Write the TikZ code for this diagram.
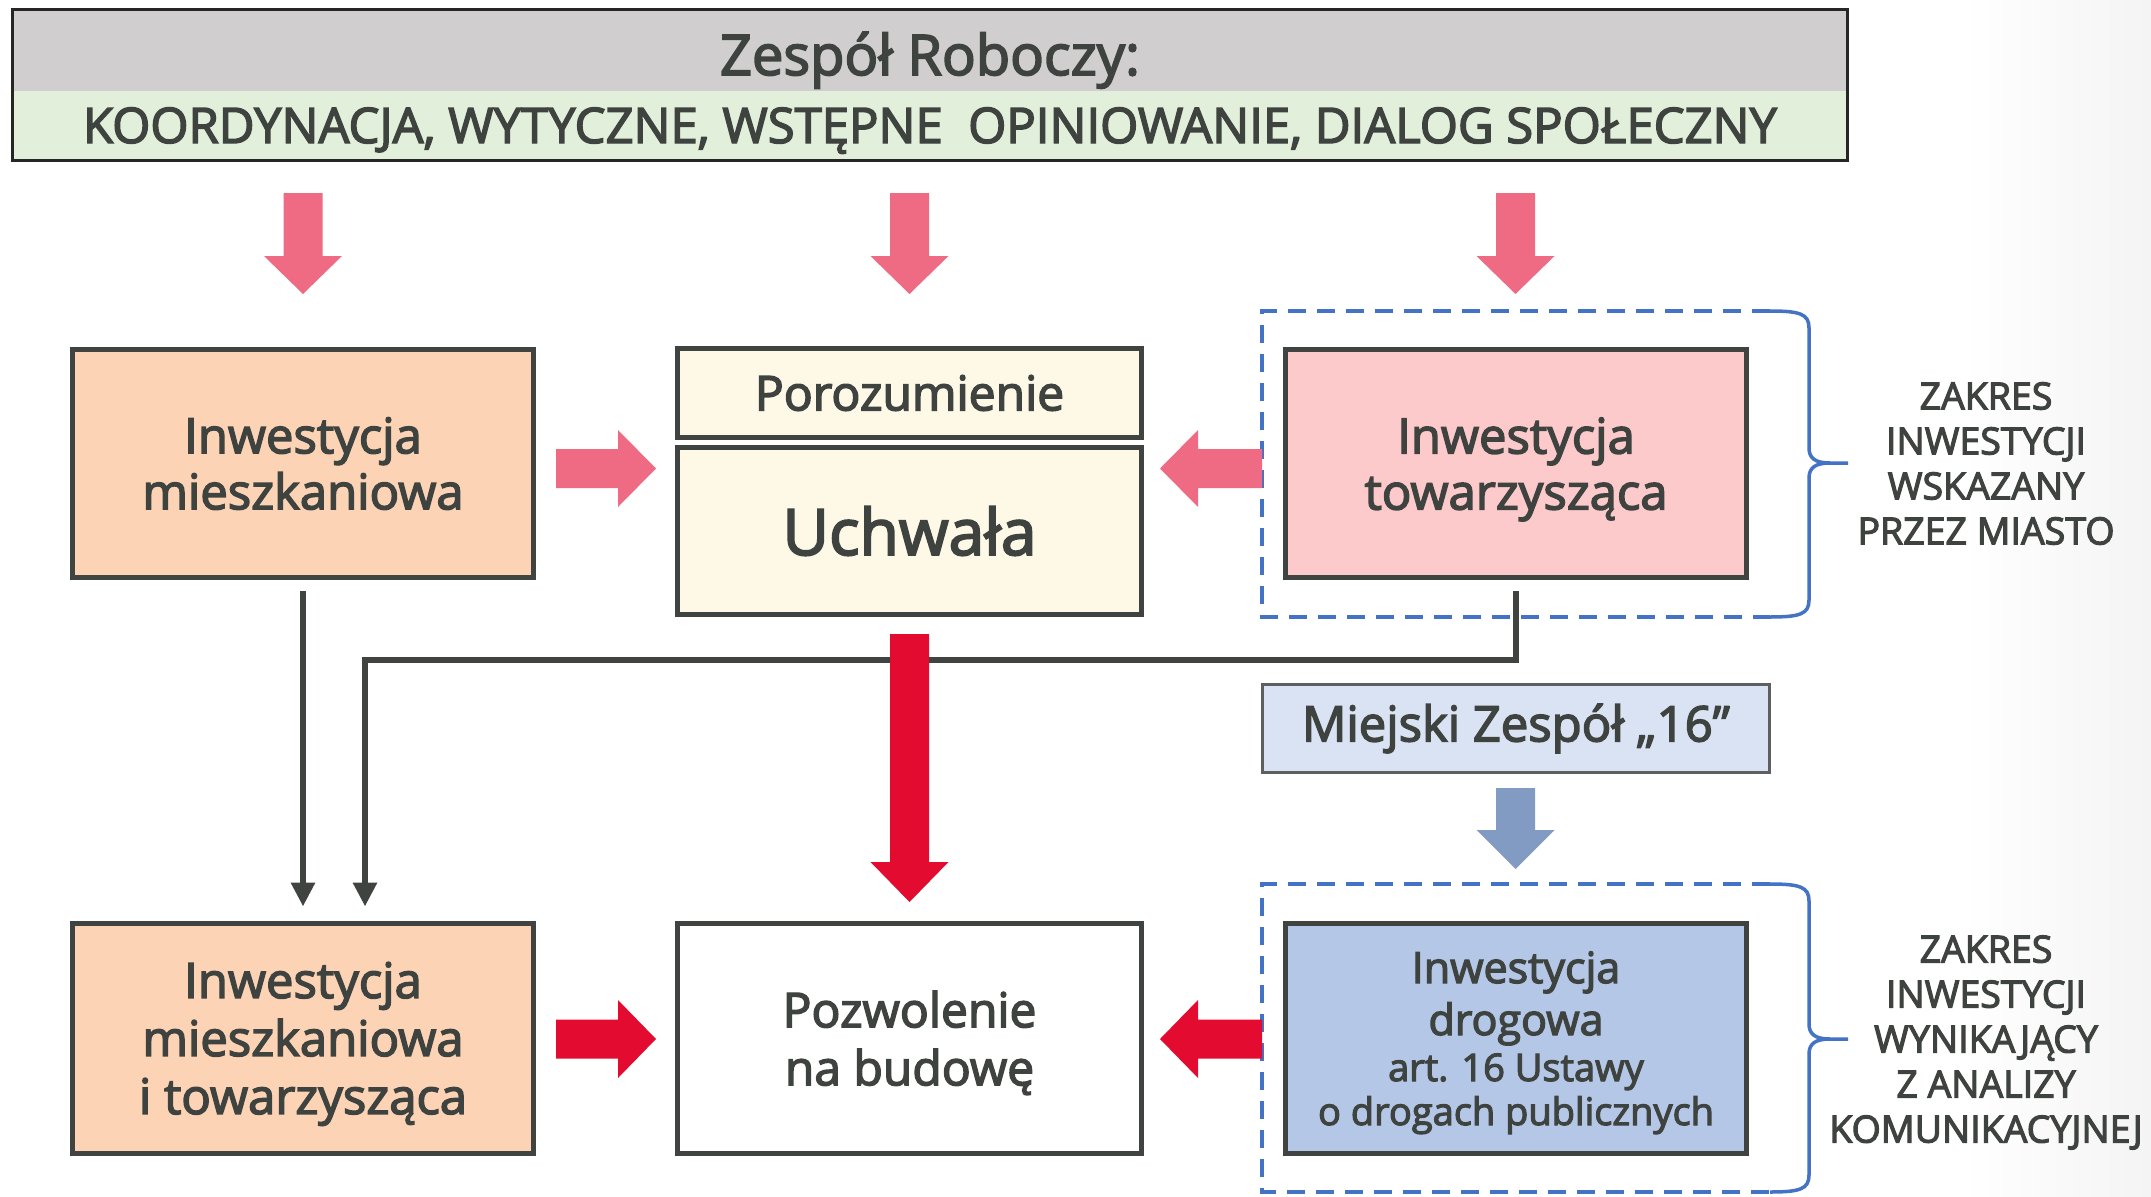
\documentclass[tikz,border=0pt]{standalone}
\usepackage{fontspec}
\setmainfont{Open Sans}[FakeBold=3]
\usetikzlibrary{arrows.meta}
\definecolor{txt}{HTML}{3F4340}
\definecolor{boxc}{HTML}{404441}
\definecolor{grayband}{HTML}{D0CECE}
\definecolor{greenband}{HTML}{E2EFDA}
\definecolor{pinka}{HTML}{EE6B83}
\definecolor{reda}{HTML}{E30B30}
\definecolor{bluea}{HTML}{829BC3}
\definecolor{peach}{HTML}{FDD3B6}
\definecolor{cream}{HTML}{FEF8E7}
\definecolor{rosy}{HTML}{FDCACB}
\definecolor{bluefill}{HTML}{B4C7E7}
\definecolor{lightblue}{HTML}{DAE3F3}
\definecolor{dashblue}{HTML}{4472C4}
\definecolor{edgegray}{HTML}{F4F4F4}
\newcommand{\myfs}[2]{\fontsize{#1}{#2}\selectfont}
\begin{document}
\begin{tikzpicture}[x=1pt,y=-1pt,
  box/.style={draw=boxc, line width=5pt, inner sep=0pt, outer sep=0pt, text=txt, align=center},
  conn/.style={draw=boxc, line width=6pt, -{Triangle[width=23pt,length=24pt]}},
  dashline/.style={draw=dashblue, line width=3.5pt, dash pattern=on 18pt off 11pt},
  braceline/.style={draw=dashblue, line width=3.5pt},
  sidetext/.style={text=txt, align=center, font=\myfs{37.5}{45}}]
\useasboundingbox (0,0) rectangle (2151,1196);
\fill[white] (0,0) rectangle (2151,1196);
\shade[left color=white, right color=edgegray] (1960,0) rectangle (2151,1196);

% top box
\fill[grayband] (11,8) rectangle (1849,91);
\fill[greenband] (11,91) rectangle (1849,162);
\node[draw=black!85, line width=3pt, minimum width=1835pt, minimum height=151pt, inner sep=0pt] (top) at (930,85) {};
\node[text=txt, font=\myfs{56}{60}, anchor=base] (title) at (930,75) {Zespół Roboczy:};
\node[text=txt, font=\myfs{49}{55}, anchor=base] (sub) at (930,143) {KOORDYNACJA, WYTYCZNE, WSTĘPNE\ \ OPINIOWANIE, DIALOG SPOŁECZNY};

% pink arrows down
\foreach \c in {303,909.5,1515.5}
  \fill[pinka] (\c-19.5,193) -- (\c+19.5,193) -- (\c+19.5,256) -- (\c+39,256) -- (\c,294) -- (\c-39,256) -- (\c-19.5,256) -- cycle;

% row 1 boxes
\node[box, fill=peach, minimum width=461pt, minimum height=228pt, font=\myfs{49}{56}] (m1) at (303,463.5) {Inwestycja\\mieszkaniowa};
\node[box, fill=cream, minimum width=464pt, minimum height=89pt, font=\myfs{48}{56}] (por) at (909.5,393) {Porozumienie};
\node[box, fill=cream, minimum width=464pt, minimum height=167pt, font=\myfs{64}{70}] (uch) at (909.5,531) {Uchwała};
\node[box, fill=rosy, minimum width=461pt, minimum height=228pt, font=\myfs{49}{56}] (t1) at (1516,463.5) {Inwestycja\\\smash{towarzysząca}};

% dashed frame + brace 1
\draw[dashline] (1770,311) -- (1262,311) -- (1262,617) -- (1770,617);
\draw[braceline] (1770,311) .. controls (1800,311) and (1809,314) .. (1809,328) -- (1809,448)
  .. controls (1809,458) and (1815,463) .. (1830,463) -- (1848,463);
\draw[braceline] (1830,463) .. controls (1815,463) and (1809,468) .. (1809,478) -- (1809,600)
  .. controls (1809,614) and (1800,617) .. (1770,617);
\node[sidetext] (z1) at (1986,463.5) {ZAKRES\\INWESTYCJI\\WSKAZANY\\PRZEZ MIASTO};

% horizontal arrows row 1
\fill[pinka] (556,449) -- (618,449) -- (618,430) -- (656,468.5) -- (618,507) -- (618,488) -- (556,488) -- cycle;
\fill[pinka] (1262,449) -- (1198,449) -- (1198,430) -- (1160,468.5) -- (1198,507) -- (1198,488) -- (1262,488) -- cycle;

% Miejski Zespol 16
\node[box, draw=boxc!85, line width=3pt, fill=lightblue, minimum width=507pt, minimum height=88pt, font=\myfs{49}{52}] (mz) at (1516,728.5) {Miejski Zespół „16”};
\fill[bluea] (1496,788) -- (1535,788) -- (1535,830) -- (1554.5,830) -- (1515.5,869) -- (1476.5,830) -- (1496,830) -- cycle;

% row 2 boxes
\node[box, fill=peach, minimum width=461pt, minimum height=230pt, font=\myfs{49}{58}] (m2) at (303,1038) {Inwestycja\\mieszkaniowa\\\smash{i towarzysząca}};
\node[box, fill=white, minimum width=464pt, minimum height=230pt, font=\myfs{48}{58}] (poz) at (909.5,1038) {Pozwolenie\\\smash{na budowę}};
\node[box, fill=bluefill, minimum width=461pt, minimum height=230pt] (d1) at (1516,1038) {};
\node[text=txt, align=center, font=\myfs{43}{52}, anchor=base] (d1a) at (1516,1035) {Inwestycja\\drogowa};
\node[text=txt, align=center, font=\myfs{38}{44}, anchor=base] (d1b) at (1516,1125) {art. 16 Ustawy\\o drogach publicznych};

% dashed frame + brace 2
\draw[dashline] (1770,884) -- (1262,884) -- (1262,1192) -- (1770,1192);
\draw[braceline] (1770,884) .. controls (1800,884) and (1809,887) .. (1809,901) -- (1809,1024)
  .. controls (1809,1034) and (1815,1039) .. (1830,1039) -- (1848,1039);
\draw[braceline] (1830,1039) .. controls (1815,1039) and (1809,1044) .. (1809,1054) -- (1809,1175)
  .. controls (1809,1189) and (1800,1192) .. (1770,1192);
\node[sidetext] (z2) at (1986,1042.5) {ZAKRES\\INWESTYCJI\\WYNIKAJĄCY\\Z ANALIZY\\KOMUNIKACYJNEJ};

% thin connectors
\draw[conn] ([yshift=-13.5pt]m1.south) -- ([yshift=16.5pt]m2.north);
\draw[conn] ([yshift=-13.5pt]t1.south) -- ++(0,69) -| ([xshift=62pt,yshift=16.5pt]m2.north);

% red arrows
\fill[reda] (890,634) -- (929,634) -- (929,862) -- (948.5,862) -- (909.5,902) -- (870.5,862) -- (890,862) -- cycle;
\fill[reda] (556,1019.5) -- (618,1019.5) -- (618,1000) -- (656,1039) -- (618,1078) -- (618,1058.5) -- (556,1058.5) -- cycle;
\fill[reda] (1262,1019.5) -- (1198,1019.5) -- (1198,1000) -- (1160,1039) -- (1198,1078) -- (1198,1058.5) -- (1262,1058.5) -- cycle;
\end{tikzpicture}
\end{document}
